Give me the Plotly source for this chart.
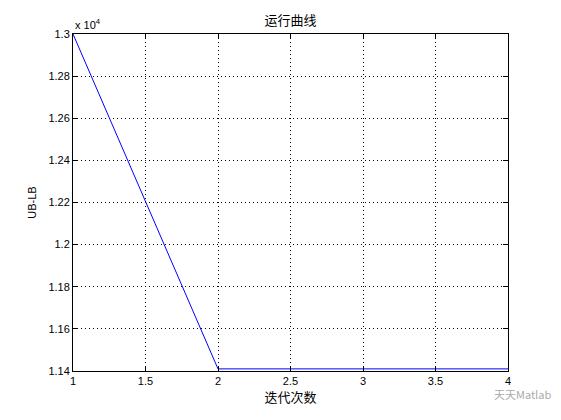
import plotly.graph_objects as go

iterations = [1, 2, 3, 4]
ub_lb = [13000, 11410, 11410, 11410]
y_ticks = [1.14, 1.16, 1.18, 1.2, 1.22, 1.24, 1.26, 1.28, 1.3]
y_tick_labels = ["1.14", "1.16", "1.18", "1.2", "1.22", "1.24", "1.26", "1.28", "1.3"]
x_ticks = [1, 1.5, 2, 2.5, 3, 3.5, 4]
x_tick_labels = ["1", "1.5", "2", "2.5", "3", "3.5", "4"]

scale = 1e4
y_scaled = [v / scale for v in ub_lb]

fig = go.Figure()
fig.add_trace(go.Scatter(x=iterations, y=y_scaled, mode="lines",
                         line=dict(color="#0000ff", width=1), showlegend=False,
                         hoverinfo="skip"))

axis_common = dict(showline=True, linecolor="black", linewidth=1, mirror="ticks",
                   ticks="inside", ticklen=5, tickcolor="black",
                   showgrid=True, gridcolor="black", griddash="1px,3px", gridwidth=1,
                   zeroline=False, tickfont=dict(family="Liberation Sans, Arial", size=11, color="black"))

fig.update_xaxes(range=[1, 4], tickvals=x_ticks, ticktext=x_tick_labels,
                 title=dict(text="迭代次数", font=dict(family="Noto Sans CJK SC", size=13, color="black"), standoff=5),
                 **axis_common)
fig.update_yaxes(range=[1.14, 1.3], tickvals=y_ticks, ticktext=y_tick_labels,
                 title=dict(text="UB-LB", font=dict(family="Liberation Sans, Arial", size=11, color="black"), standoff=9),
                 **axis_common)

fig.update_layout(
    width=553, height=412,
    margin=dict(l=65, r=53, t=26, b=49),
    paper_bgcolor="white", plot_bgcolor="white",
    title=dict(text="运行曲线", x=0.5, xanchor="center", xref="paper", y=1, yref="paper",
               yanchor="bottom", pad=dict(b=9),
               font=dict(family="Noto Sans CJK SC", size=13, color="black")),
    annotations=[
        dict(text="x 10<sup>4</sup>", xref="paper", yref="paper", x=0, y=1,
             xanchor="left", yanchor="bottom", showarrow=False, yshift=1,
             font=dict(family="Liberation Sans, Arial", size=11, color="black")),
        dict(text="天天Matlab", xref="paper", yref="paper", x=1.0, y=0,
             xanchor="left", yanchor="middle", xshift=-16, yshift=-23, showarrow=False,
             font=dict(family="Noto Sans CJK SC", size=11, color="#aaaaaa")),
    ],
)

fig.write_html("out.html")
